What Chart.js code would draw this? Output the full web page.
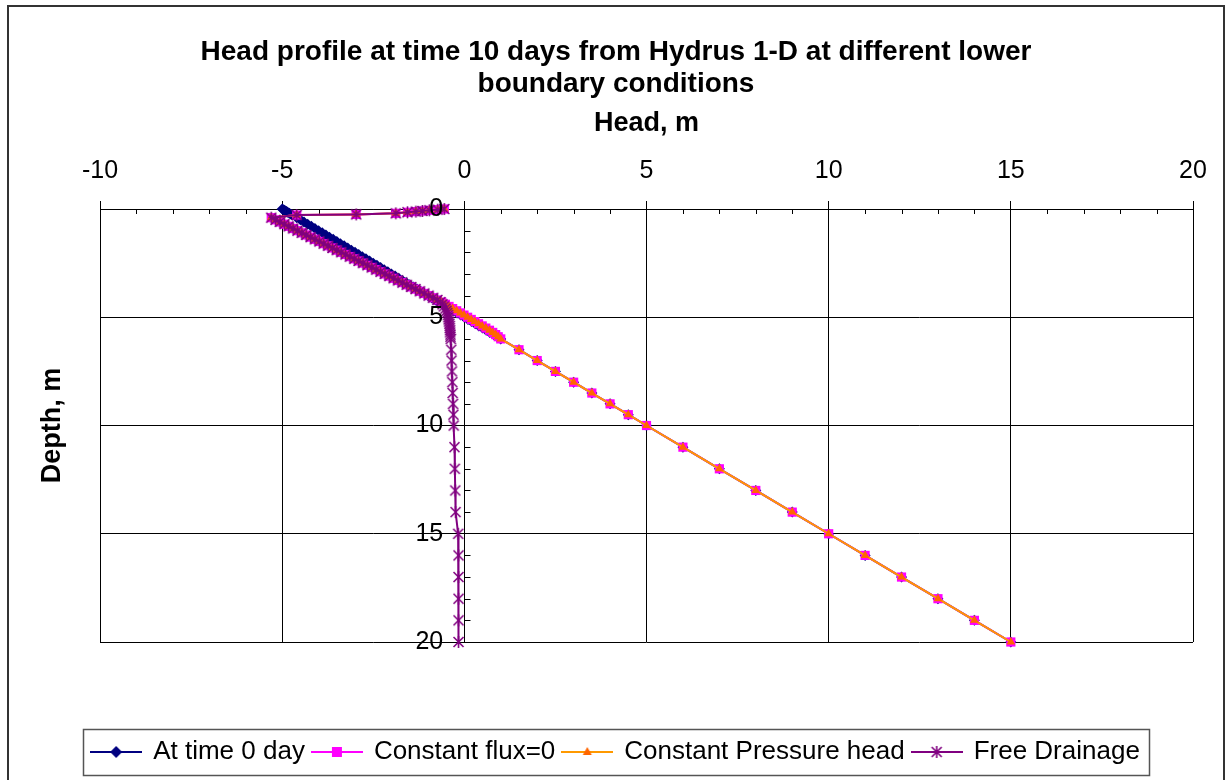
<!DOCTYPE html>
<html>
<head>
<meta charset="utf-8">
<script src="https://cdn.jsdelivr.net/npm/chart.js@4.4.0/dist/chart.umd.min.js"></script>
<style>
html,body{margin:0;padding:0;background:#fff}
#wrap{width:1232px;height:780px}
</style>
</head>
<body>
<div id="wrap"><canvas id="c" width="1232" height="780"></canvas></div>
<script>
/* ===== 資料：節點深度 (m) 與各條件下的壓力水頭 (m) ===== */
const depthNodes = [
  0, 0.03, 0.06, 0.09, 0.12, 0.15, 0.2, 0.25, 0.28,
  0.4, 0.5, 0.6, 0.7, 0.8, 0.9, 1.0, 1.1, 1.2, 1.3, 1.4, 1.5, 1.6, 1.7, 1.8, 1.9,
  2.0, 2.1, 2.2, 2.3, 2.4, 2.5, 2.6, 2.7, 2.8, 2.9, 3.0, 3.1, 3.2, 3.3, 3.4, 3.5,
  3.6, 3.7, 3.8, 3.9, 4.0, 4.1, 4.2, 4.3, 4.4, 4.5, 4.6, 4.7, 4.8, 4.9, 5.0, 5.1,
  5.2, 5.3, 5.4, 5.5, 5.6, 5.7, 5.8, 5.9, 6.0,
  6.5, 7, 7.5, 8, 8.5, 9, 9.5, 10,
  11, 12, 13, 14, 15, 16, 17, 18, 19, 20
];

const headInitial = [
  -5, -4.97, -4.94, -4.91, -4.88, -4.85, -4.8, -4.75, -4.72,
  -4.6, -4.5, -4.4, -4.3, -4.2, -4.1, -4.0, -3.9, -3.8, -3.7, -3.6, -3.5, -3.4, -3.3, -3.2, -3.1,
  -3.0, -2.9, -2.8, -2.7, -2.6, -2.5, -2.4, -2.3, -2.2, -2.1, -2.0, -1.9, -1.8, -1.7, -1.6, -1.5,
  -1.4, -1.3, -1.2, -1.1, -1.0, -0.9, -0.8, -0.7, -0.6, -0.5, -0.4, -0.3, -0.2, -0.1, 0, 0.1,
  0.2, 0.3, 0.4, 0.5, 0.6, 0.7, 0.8, 0.9, 1.0,
  1.5, 2, 2.5, 3, 3.5, 4, 4.5, 5,
  6, 7, 8, 9, 10, 11, 12, 13, 14, 15
];

const headFlux0 = [
  -0.55, -0.73, -0.96, -1.15, -1.33, -1.56, -1.88, -2.97, -4.6,
  -5.30, -5.18, -5.06, -4.94, -4.82, -4.70, -4.58, -4.46, -4.34, -4.22, -4.10, -3.98, -3.86, -3.74, -3.62, -3.50,
  -3.38, -3.26, -3.14, -3.02, -2.90, -2.78, -2.66, -2.54, -2.42, -2.30, -2.18, -2.06, -1.94, -1.82, -1.70, -1.58,
  -1.46, -1.34, -1.22, -1.10, -0.98, -0.86, -0.74, -0.62, -0.52, -0.42, -0.32, -0.21, -0.11, -0.01, 0.09, 0.19,
  0.29, 0.39, 0.49, 0.59, 0.69, 0.78, 0.86, 0.93, 1.0,
  1.5, 2, 2.5, 3, 3.5, 4, 4.5, 5,
  6, 7, 8, 9, 10, 11, 12, 13, 14, 15
];

const headConstP = [
  -0.55, -0.73, -0.96, -1.15, -1.33, -1.56, -1.88, -2.97, -4.6,
  -5.30, -5.18, -5.06, -4.94, -4.82, -4.70, -4.58, -4.46, -4.34, -4.22, -4.10, -3.98, -3.86, -3.74, -3.62, -3.50,
  -3.38, -3.26, -3.14, -3.02, -2.90, -2.78, -2.66, -2.54, -2.42, -2.30, -2.18, -2.06, -1.94, -1.82, -1.70, -1.58,
  -1.46, -1.34, -1.22, -1.10, -0.98, -0.86, -0.74, -0.62, -0.52, -0.42, -0.32, -0.21, -0.11, -0.01, 0.09, 0.19,
  0.29, 0.39, 0.49, 0.59, 0.69, 0.78, 0.86, 0.93, 1.0,
  1.5, 2, 2.5, 3, 3.5, 4, 4.5, 5,
  6, 7, 8, 9, 10, 11, 12, 13, 14, 15
];

const headFreeDrain = [
  -0.55, -0.73, -0.96, -1.15, -1.33, -1.56, -1.88, -2.97, -4.6,
  -5.30, -5.18, -5.06, -4.94, -4.82, -4.70, -4.58, -4.46, -4.34, -4.22, -4.10, -3.98, -3.86, -3.74, -3.62, -3.50,
  -3.38, -3.26, -3.14, -3.02, -2.90, -2.78, -2.66, -2.54, -2.42, -2.30, -2.18, -2.06, -1.94, -1.82, -1.70, -1.58,
  -1.46, -1.34, -1.22, -1.10, -0.98, -0.86, -0.74, -0.66, -0.60, -0.56, -0.52, -0.49, -0.47, -0.45, -0.44, -0.43,
  -0.42, -0.41, -0.40, -0.40, -0.39, -0.39, -0.38, -0.38, -0.37,
  -0.36, -0.35, -0.34, -0.33, -0.32, -0.31, -0.30, -0.29,
  -0.27, -0.26, -0.25, -0.24, -0.17, -0.16, -0.16, -0.16, -0.16, -0.16
];

const seriesNames = ['At time 0 day', 'Constant flux=0', 'Constant Pressure head', 'Free Drainage'];
const titleLines = ['Head profile at time 10 days from Hydrus 1-D at different lower', 'boundary conditions'];

/* ===== 樣式 ===== */
const NAVY = '#000080', MAG = '#FF00FF', ORG_LINE = '#FF9900', ORG_PT = '#FF6600', PUR = '#800080';
const PLOT_BOTTOM = 642, PAD_BOTTOM = 5;
Chart.defaults.font.family = 'Arial, "Liberation Sans", sans-serif';
Chart.defaults.color = '#000';

const toPts = arr => arr.map((h, i) => ({x: h, y: depthNodes[i]}));

function mkCanvas(w, h, draw){
  const c = document.createElement('canvas'); c.width = w; c.height = h;
  draw(c.getContext('2d'), w, h); return c;
}
// 星號標記（X 加一豎）
const drawStar = (g, cx, cy, r) => {
  g.strokeStyle = PUR; g.lineWidth = 1.6; g.beginPath();
  g.moveTo(cx - r, cy - r); g.lineTo(cx + r, cy + r);
  g.moveTo(cx + r, cy - r); g.lineTo(cx - r, cy + r);
  g.moveTo(cx, cy - r - 1); g.lineTo(cx, cy + r + 1);
  g.stroke();
};
const starMark = mkCanvas(13, 14, (g, w, h) => drawStar(g, w/2, h/2, 5));

// 圖例圖示：線段 + 標記
const legendIcon = (line, markFn) => mkCanvas(52, 16, (g, w, h) => {
  g.strokeStyle = line; g.lineWidth = 2;
  g.beginPath(); g.moveTo(0, h/2); g.lineTo(w, h/2); g.stroke();
  markFn(g, w/2, h/2);
});
const legendIcons = [
  legendIcon(NAVY, (g, x, y) => { g.fillStyle = NAVY; g.beginPath(); g.moveTo(x, y-6); g.lineTo(x+6, y); g.lineTo(x, y+6); g.lineTo(x-6, y); g.closePath(); g.fill(); }),
  legendIcon(MAG, (g, x, y) => { g.fillStyle = MAG; g.fillRect(x-5, y-5, 10, 10); }),
  legendIcon(ORG_LINE, (g, x, y) => { g.fillStyle = ORG_PT; g.beginPath(); g.moveTo(x, y-5); g.lineTo(x+4.5, y+3); g.lineTo(x-4.5, y+3); g.closePath(); g.fill(); }),
  legendIcon(PUR, (g, x, y) => drawStar(g, x, y, 5))
];

/* ===== 外框、圖例框、次刻度 ===== */
const decor = {
  id: 'decor',
  beforeDatasetsDraw(chart){
    const {ctx, scales:{x, y}} = chart;
    ctx.save(); ctx.strokeStyle = '#000'; ctx.lineWidth = 1; ctx.beginPath();
    for (let v = x.min; v <= x.max; v++) {
      if (v % 5) { const px = Math.round(x.getPixelForValue(v)) + 0.5; ctx.moveTo(px, y.top); ctx.lineTo(px, y.top + 5); }
    }
    const x0 = Math.round(x.getPixelForValue(0)) + 0.5;
    for (let d = y.min; d <= y.max; d++) {
      if (d % 5) { const py = Math.round(y.getPixelForValue(d)) + 0.5; ctx.moveTo(x0, py); ctx.lineTo(x0 + 6, py); }
    }
    ctx.stroke(); ctx.restore();
  },
  afterDraw(chart){
    const {ctx} = chart;
    ctx.save();
    ctx.strokeStyle = '#333'; ctx.lineWidth = 2;
    ctx.strokeRect(8, 6, 1216, 790);
    const hb = chart.legend.legendHitBoxes;
    if (hb && hb.length) {
      const l = Math.min(...hb.map(b => b.left)) - 9;
      const r = Math.max(...hb.map(b => b.left + b.width)) + 9;
      const cy = (Math.min(...hb.map(b => b.top)) + Math.max(...hb.map(b => b.top + b.height))) / 2;
      ctx.strokeStyle = '#555'; ctx.lineWidth = 1.5;
      ctx.strokeRect(Math.round(l) + 0.5, Math.round(cy - 23) + 0.5, Math.round(r - l), 46);
    }
    ctx.restore();
  }
};

new Chart(document.getElementById('c'), {
  type: 'scatter',
  data: {
    datasets: [
      {label: seriesNames[0], data: toPts(headInitial), showLine: true, borderColor: NAVY, backgroundColor: NAVY,
       borderWidth: 2, pointStyle: 'rectRot', pointRadius: 5.5, pointBorderWidth: 0, order: 4, clip: false},
      {label: seriesNames[1], data: toPts(headFlux0), showLine: true, borderColor: MAG, backgroundColor: MAG,
       borderWidth: 2, pointStyle: 'rect', pointRadius: 6.5, pointBorderWidth: 0, order: 3, clip: false},
      {label: seriesNames[2], data: toPts(headConstP), showLine: true, borderColor: ORG_LINE, backgroundColor: ORG_PT,
       pointBorderColor: ORG_PT, borderWidth: 2, pointStyle: 'triangle', pointRadius: 5, pointBorderWidth: 0, order: 2, clip: false},
      {label: seriesNames[3], data: toPts(headFreeDrain), showLine: true, borderColor: PUR, backgroundColor: PUR,
       borderWidth: 2, pointStyle: starMark, pointRadius: 6, order: 1, clip: false}
    ].map(ds => Object.assign(ds, {xAxisID: 'x', yAxisID: 'y'}))
  },
  options: {
    responsive: false, animation: false, devicePixelRatio: 1,
    layout: {padding: {left: 8, right: 8, top: 0, bottom: PAD_BOTTOM}},
    plugins: {
      title: {display: true, text: titleLines, color: '#000',
              font: {size: 28, weight: 'bold', lineHeight: 1.143}, padding: {top: 36, bottom: 0}},
      legend: {
        position: 'bottom',
        labels: {
          usePointStyle: true, pointStyleWidth: 48, padding: 8, color: '#000', font: {size: 26},
          generateLabels: chart => chart.data.datasets.map((ds, i) => ({
            text: ds.label, pointStyle: legendIcons[i], fillStyle: 'transparent', strokeStyle: 'transparent',
            lineWidth: 0, hidden: false, datasetIndex: i, fontColor: '#000'
          }))
        }
      },
      tooltip: {enabled: false}
    },
    scales: {
      x: {
        type: 'linear', position: 'top', min: -10, max: 20,
        ticks: {stepSize: 5, font: {size: 25}, padding: 15, color: '#000'},
        grid: {color: '#000', tickColor: '#000', tickLength: 8, lineWidth: 1},
        border: {color: '#000'},
        title: {display: true, text: 'Head, m', font: {size: 27, weight: 'bold'}, padding: {top: 7, bottom: 0}},
        afterFit: s => { s.height = 109; }
      },
      // 圖例上方的留白
      gap: {
        type: 'linear', position: 'bottom', axis: 'x', display: true,
        ticks: {display: false}, grid: {display: false}, border: {display: false},
        afterFit: s => { s.height = 780 - PAD_BOTTOM - s.chart.legend.height - PLOT_BOTTOM; }
      },
      y: {
        type: 'linear', position: 'left', min: 0, max: 20, reverse: true,
        ticks: {stepSize: 5, display: false},
        grid: {color: '#000', drawTicks: false, lineWidth: 1},
        border: {display: false},
        title: {display: true, text: 'Depth, m', font: {size: 27, weight: 'bold'}, padding: {top: 28, bottom: 0}},
        afterFit: s => { s.width = 92; }
      },
      // 深度刻度字放在水頭 0 的縱軸左側，畫在資料點之上
      y2: {
        type: 'linear', position: {x: -0.58}, min: 0, max: 20, reverse: true,
        ticks: {stepSize: 5, font: {size: 25}, padding: 0, color: '#000', z: 1},
        grid: {drawOnChartArea: false, drawTicks: false},
        border: {display: false}
      },
      // 右側留白
      yr: {
        type: 'linear', position: 'right', axis: 'y', display: true,
        ticks: {display: false}, grid: {display: false}, border: {display: false},
        afterFit: s => { s.width = 31; }
      }
    }
  },
  plugins: [decor]
});
</script>
</body>
</html>
